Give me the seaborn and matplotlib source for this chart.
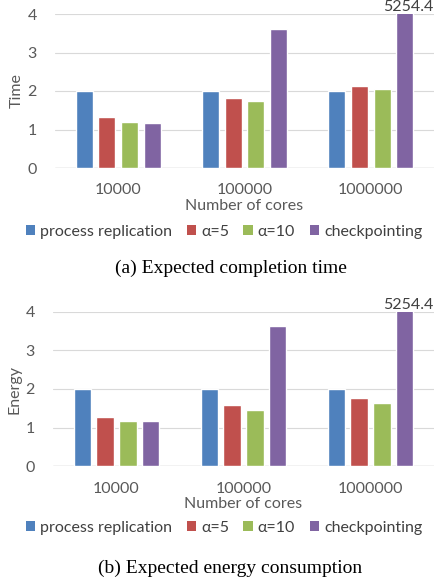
import matplotlib
matplotlib.use("Agg")
import matplotlib.pyplot as plt
import seaborn as sns
import pandas as pd
from matplotlib.patches import Patch

cores = ["10000", "100000", "1000000"]
series = ["process replication", "α=5", "α=10", "checkpointing"]
time_vals = {
    "process replication": [2.0, 2.0, 2.0],
    "α=5": [1.33, 1.82, 2.13],
    "α=10": [1.20, 1.73, 2.06],
    "checkpointing": [1.17, 3.62, 5254.4],
}
energy_vals = {
    "process replication": [2.0, 2.0, 2.0],
    "α=5": [1.27, 1.58, 1.76],
    "α=10": [1.17, 1.45, 1.63],
    "checkpointing": [1.17, 3.62, 5254.4],
}
yticks = [0, 1, 2, 3, 4]
colors = ["#4F81BD", "#C0504D", "#9BBB59", "#8064A2"]
captions = ["(a) Expected completion time", "(b) Expected energy consumption"]
ylabels = ["Time", "Energy"]

sns.set_theme(style="white")
plt.rcParams["font.family"] = ["Lato", "DejaVu Sans"]

fig = plt.figure(figsize=(4.35, 5.86), dpi=100)
gray = "#595959"
fs = 11.5

def make_df(vals):
    rows = []
    for s in series:
        for c, v in zip(cores, vals[s]):
            rows.append({"cores": c, "series": s, "value": v})
    return pd.DataFrame(rows)

axes_rects = [
    [55 / 435, 418 / 586, 379 / 435, 154 / 586],
    [53 / 435, 119.7 / 586, 381 / 435, 154.6 / 586],
]
legend_y = [1 - 232 / 586, 1 - 528 / 586]
caption_y = [1 - 268 / 586, 1 - 568 / 586]

for i, vals in enumerate([time_vals, energy_vals]):
    ax = fig.add_axes(axes_rects[i])
    df = make_df(vals)
    sns.barplot(data=df, x="cores", y="value", hue="series", order=cores,
                hue_order=series, palette=colors, width=0.72, gap=0.25,
                saturation=1, ax=ax, legend=False)
    ax.set_ylim(0, 4)
    ax.set_xlim(-0.5, 2.5)
    ax.set_yticks(yticks)
    for y in yticks[1:]:
        ax.axhline(y, color="#D9D9D9", lw=0.8, zorder=0)
    ax.axhline(0, color="#BFBFBF", lw=1.0, zorder=0)
    for sp in ax.spines.values():
        sp.set_visible(False)
    ax.tick_params(axis="x", length=0, pad=11, labelsize=fs, labelcolor=gray)
    ax.tick_params(axis="y", length=0, pad=13, labelsize=fs, labelcolor=gray)
    ax.set_xlabel("Number of cores", fontsize=fs, color=gray, labelpad=1)
    ax.set_ylabel(ylabels[i], fontsize=fs, color=gray, labelpad=3)
    # annotate clipped bar
    big = vals["checkpointing"][2]
    ax.text(2 + 0.30, 4.0, f"{big}", ha="center", va="bottom",
            fontsize=fs, color="#404040", clip_on=False)
    handles = [Patch(facecolor=c, edgecolor="none") for c in colors]
    fig.legend(handles, series, loc="center", bbox_to_anchor=(0.515, legend_y[i]),
               ncol=4, frameon=False, fontsize=fs, handlelength=0.6,
               handleheight=0.6, handletextpad=0.3, columnspacing=0.9,
               labelcolor="#404040")
    fig.text(0.53, caption_y[i], captions[i], ha="center", va="center",
             fontsize=14, family=["Liberation Serif"], color="black")

fig.savefig("out.png", dpi=100)
